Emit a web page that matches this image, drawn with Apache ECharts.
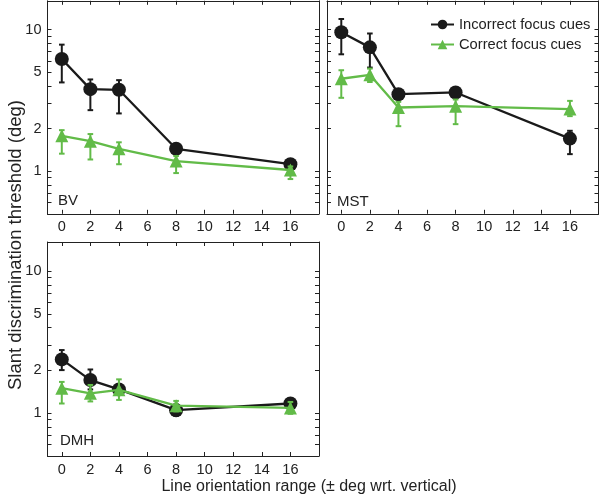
<!DOCTYPE html>
<html>
<head>
<meta charset="utf-8">
<script src="https://cdn.jsdelivr.net/npm/echarts@6/dist/echarts.min.js"></script>
<style>
html,body{margin:0;padding:0;background:#fff;}
#chart{width:600px;height:498px;}
</style>
</head>
<body>
<div id="chart"></div>
<script>
// ---- Data ----
const xValues = [0, 2, 4, 8, 16];
const xTickValues = [0, 2, 4, 6, 8, 10, 12, 14, 16];
const yLabelValues = [1, 2, 5, 10];
const yTickValues = [0.5, 0.6, 0.7, 0.8, 0.9, 1, 2, 3, 4, 5, 6, 7, 8, 9, 10];
const panelNames = ['BV', 'MST', 'DMH'];
const seriesNames = ['Incorrect focus cues', 'Correct focus cues'];

// BV
const bvIncorrect = [6.2, 3.8, 3.76, 1.44, 1.12];
const bvIncorrectLow = [4.24, 2.70, 2.56, 1.36, 1.05];
const bvIncorrectHigh = [7.84, 4.45, 4.40, 1.53, 1.22];
const bvCorrect = [1.78, 1.63, 1.44, 1.18, 1.02];
const bvCorrectLow = [1.33, 1.21, 1.12, 0.97, 0.88];
const bvCorrectHigh = [1.95, 1.83, 1.60, 1.28, 1.08];
// MST
const mstIncorrect = [9.6, 7.5, 3.5, 3.6, 1.7];
const mstIncorrectLow = [6.7, 5.4, 3.3, 3.4, 1.32];
const mstIncorrectHigh = [11.9, 9.4, 3.7, 3.8, 1.93];
const mstCorrect = [4.5, 4.8, 2.82, 2.88, 2.75];
const mstCorrectLow = [3.3, 4.27, 2.08, 2.15, 2.45];
const mstCorrectHigh = [5.17, 5.31, 3.09, 3.21, 3.14];
// DMH
const dmhIncorrect = [2.39, 1.71, 1.47, 1.05, 1.17];
const dmhIncorrectLow = [2.01, 1.47, 1.40, 0.96, 1.08];
const dmhIncorrectHigh = [2.78, 2.03, 1.55, 1.15, 1.27];
const dmhCorrect = [1.5, 1.38, 1.46, 1.13, 1.09];
const dmhCorrectLow = [1.17, 1.21, 1.24, 1.03, 0.99];
const dmhCorrectHigh = [1.66, 1.58, 1.73, 1.22, 1.20];

const panels = [
  {inc: bvIncorrect, incLo: bvIncorrectLow, incHi: bvIncorrectHigh, cor: bvCorrect, corLo: bvCorrectLow, corHi: bvCorrectHigh},
  {inc: mstIncorrect, incLo: mstIncorrectLow, incHi: mstIncorrectHigh, cor: mstCorrect, corLo: mstCorrectLow, corHi: mstCorrectHigh},
  {inc: dmhIncorrect, incLo: dmhIncorrectLow, incHi: dmhIncorrectHigh, cor: dmhCorrect, corLo: dmhCorrectLow, corHi: dmhCorrectHigh}
];

// ---- Layout / style ----
const BLACK = '#1a1a1a';
const GREEN = '#62bb48';
const AX = '#222';
const FONT = 'Liberation Sans, Arial, Helvetica, sans-serif';
const grids = [
  {left: 47.5, top: 0.8, width: 271.5, height: 213},
  {left: 327, top: 0.8, width: 271.5, height: 213},
  {left: 47.5, top: 242, width: 271.5, height: 214}
];

const xAxes = [], yAxes = [], series = [];
grids.forEach((g, i) => {
  const showYLabel = i !== 1;
  xAxes.push({
    type: 'value', gridIndex: i, min: -1, max: 18, position: 'bottom',
    axisLine: {show: true, onZero: false, lineStyle: {color: AX, width: 1}},
    axisTick: {show: true, inside: true, length: 4, customValues: xTickValues, lineStyle: {color: AX}},
    axisLabel: {show: true, customValues: xTickValues, color: AX, fontSize: 14.5, fontFamily: FONT, margin: 6},
    splitLine: {show: false}
  });
  xAxes.push({
    type: 'value', gridIndex: i, min: -1, max: 18, position: 'top',
    axisLine: {show: true, onZero: false, lineStyle: {color: AX, width: 1}},
    axisTick: {show: true, inside: true, length: 4, customValues: xTickValues, lineStyle: {color: AX}},
    axisLabel: {show: false},
    splitLine: {show: false}
  });
  yAxes.push({
    type: 'log', logBase: 10, gridIndex: i, min: 0.5, max: 16, position: 'left',
    axisLine: {show: true, onZero: false, lineStyle: {color: AX, width: 1}},
    axisTick: {show: true, inside: true, length: 4, customValues: yTickValues, lineStyle: {color: AX}},
    axisLabel: {show: showYLabel, customValues: yLabelValues, color: AX, fontSize: 14.5, fontFamily: FONT, margin: 6},
    splitLine: {show: false}
  });
  yAxes.push({
    type: 'log', logBase: 10, gridIndex: i, min: 0.5, max: 16, position: 'right',
    axisLine: {show: true, onZero: false, lineStyle: {color: AX, width: 1}},
    axisTick: {show: true, inside: true, length: 4, customValues: yTickValues, lineStyle: {color: AX}},
    axisLabel: {show: false},
    splitLine: {show: false}
  });

  const p = panels[i];
  const defs = [
    {name: seriesNames[0], vals: p.inc, lo: p.incLo, hi: p.incHi, color: BLACK, symbol: 'circle', size: 14, z: 3},
    {name: seriesNames[1], vals: p.cor, lo: p.corLo, hi: p.corHi, color: GREEN, symbol: 'triangle', size: 13, z: 5}
  ];
  defs.forEach(d => {
    series.push({
      type: 'custom', name: d.name + ' err', xAxisIndex: 2 * i, yAxisIndex: 2 * i,
      z: d.z, silent: true,
      encode: {x: 0, y: [1, 2]},
      data: xValues.map((x, k) => [x, d.lo[k], d.hi[k]]),
      renderItem: (params, api) => {
        const x = api.value(0);
        const pLo = api.coord([x, api.value(1)]);
        const pHi = api.coord([x, api.value(2)]);
        const w = 2.8;
        const st = {stroke: d.color, lineWidth: 2};
        return {type: 'group', children: [
          {type: 'line', shape: {x1: pLo[0], y1: pLo[1], x2: pHi[0], y2: pHi[1]}, style: st},
          {type: 'line', shape: {x1: pLo[0] - w, y1: pLo[1], x2: pLo[0] + w, y2: pLo[1]}, style: st},
          {type: 'line', shape: {x1: pHi[0] - w, y1: pHi[1], x2: pHi[0] + w, y2: pHi[1]}, style: st}
        ]};
      }
    });
    series.push({
      type: 'line', name: d.name, xAxisIndex: 2 * i, yAxisIndex: 2 * i,
      z: d.z + 1,
      data: xValues.map((x, k) => [x, d.vals[k]]),
      symbol: d.symbol, symbolSize: d.size, showSymbol: true,
      lineStyle: {color: d.color, width: 2.3},
      itemStyle: {color: d.color, borderWidth: 0},
      emphasis: {disabled: true},
      animation: false
    });
  });
});

const chart = echarts.init(document.getElementById('chart'), null, {renderer: 'canvas'});
chart.setOption({
  animation: false,
  backgroundColor: '#fff',
  grid: grids,
  xAxis: xAxes,
  yAxis: yAxes,
  legend: {
    data: seriesNames,
    orient: 'vertical',
    left: 430, top: 17, padding: 0,
    itemWidth: 23, itemHeight: 12, itemGap: 5,
    textStyle: {color: AX, fontSize: 14.7, fontFamily: FONT},
    selectedMode: false
  },
  graphic: [
    {type: 'text', x: 58, y: 201, style: {text: panelNames[0], fontSize: 15, fontFamily: FONT, fill: AX, verticalAlign: 'middle'}},
    {type: 'text', x: 337, y: 201.5, style: {text: panelNames[1], fontSize: 15, fontFamily: FONT, fill: AX, verticalAlign: 'middle'}},
    {type: 'text', x: 60, y: 441, style: {text: panelNames[2], fontSize: 15, fontFamily: FONT, fill: AX, verticalAlign: 'middle'}},
    {type: 'text', x: 15.5, y: 245, rotation: Math.PI / 2,
      style: {text: 'Slant discrimination threshold (deg)', fontSize: 18.5, fontFamily: FONT, fill: AX, align: 'center', verticalAlign: 'middle'}},
    {type: 'text', x: 309, y: 487, style: {text: 'Line orientation range (± deg wrt. vertical)', fontSize: 16, fontFamily: FONT, fill: AX, align: 'center', verticalAlign: 'middle'}}
  ],
  series: series
});
</script>
</body>
</html>
